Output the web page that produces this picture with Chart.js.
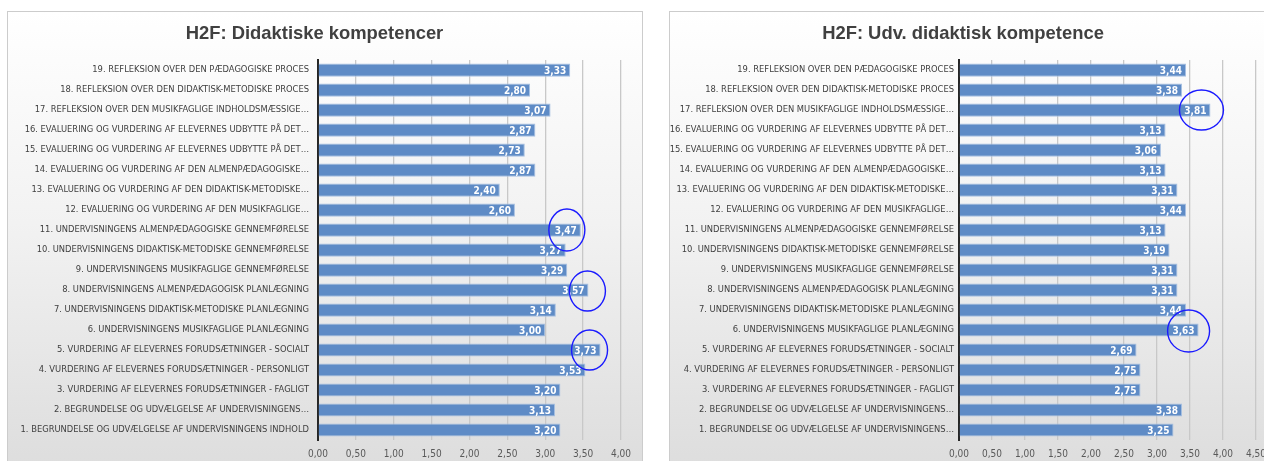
<!DOCTYPE html>
<html>
<head>
<meta charset="utf-8">
<script src="https://cdn.jsdelivr.net/npm/chart.js@4.4.1/dist/chart.umd.min.js"></script>
<style>
  html, body { margin: 0; padding: 0; background: #ffffff; width: 1264px; height: 461px; overflow: hidden; }
  .panel { position: absolute; top: 11px; height: 470px; box-sizing: border-box; border: 1px solid #cccccc;
           background: linear-gradient(to bottom, #ffffff 0%, #f2f2f2 45%, #dcdcdc 100%); }
  .panel canvas { position: absolute; left: 0; top: 0; }
</style>
</head>
<body>
<div class="panel" id="pl" style="left:7px;width:636px;"><canvas id="c1" width="635" height="457"></canvas></div>
<div class="panel" id="pr" style="left:669px;width:607px;"><canvas id="c2" width="606" height="457"></canvas></div>
<script>
// ---------------- DATA ----------------
const leftTitle = 'H2F: Didaktiske kompetencer';
const rightTitle = 'H2F: Udv. didaktisk kompetence';

// categories listed 1 .. 19 (1 is drawn at the bottom)
const leftCategories = [
  '1. BEGRUNDELSE OG UDVÆLGELSE AF UNDERVISNINGENS INDHOLD',
  '2. BEGRUNDELSE OG UDVÆLGELSE AF UNDERVISNINGENS…',
  '3. VURDERING AF ELEVERNES FORUDSÆTNINGER - FAGLIGT',
  '4. VURDERING AF ELEVERNES FORUDSÆTNINGER - PERSONLIGT',
  '5. VURDERING AF ELEVERNES FORUDSÆTNINGER - SOCIALT',
  '6. UNDERVISNINGENS MUSIKFAGLIGE PLANLÆGNING',
  '7. UNDERVISNINGENS DIDAKTISK-METODISKE PLANLÆGNING',
  '8. UNDERVISNINGENS ALMENPÆDAGOGISK PLANLÆGNING',
  '9. UNDERVISNINGENS MUSIKFAGLIGE GENNEMFØRELSE',
  '10. UNDERVISNINGENS DIDAKTISK-METODISKE GENNEMFØRELSE',
  '11. UNDERVISNINGENS ALMENPÆDAGOGISKE GENNEMFØRELSE',
  '12. EVALUERING OG VURDERING AF DEN MUSIKFAGLIGE…',
  '13. EVALUERING OG VURDERING AF DEN DIDAKTISK-METODISKE…',
  '14. EVALUERING OG VURDERING AF DEN ALMENPÆDAGOGISKE…',
  '15. EVALUERING OG VURDERING AF ELEVERNES UDBYTTE PÅ DET…',
  '16. EVALUERING OG VURDERING AF ELEVERNES UDBYTTE PÅ DET…',
  '17. REFLEKSION OVER DEN MUSIKFAGLIGE INDHOLDSMÆSSIGE…',
  '18. REFLEKSION OVER DEN DIDAKTISK-METODISKE PROCES',
  '19. REFLEKSION OVER DEN PÆDAGOGISKE PROCES'
];
const rightCategories = [
  '1. BEGRUNDELSE OG UDVÆLGELSE AF UNDERVISNINGENS…',
  '2. BEGRUNDELSE OG UDVÆLGELSE AF UNDERVISNINGENS…',
  '3. VURDERING AF ELEVERNES FORUDSÆTNINGER - FAGLIGT',
  '4. VURDERING AF ELEVERNES FORUDSÆTNINGER - PERSONLIGT',
  '5. VURDERING AF ELEVERNES FORUDSÆTNINGER - SOCIALT',
  '6. UNDERVISNINGENS MUSIKFAGLIGE PLANLÆGNING',
  '7. UNDERVISNINGENS DIDAKTISK-METODISKE PLANLÆGNING',
  '8. UNDERVISNINGENS ALMENPÆDAGOGISK PLANLÆGNING',
  '9. UNDERVISNINGENS MUSIKFAGLIGE GENNEMFØRELSE',
  '10. UNDERVISNINGENS DIDAKTISK-METODISKE GENNEMFØRELSE',
  '11. UNDERVISNINGENS ALMENPÆDAGOGISKE GENNEMFØRELSE',
  '12. EVALUERING OG VURDERING AF DEN MUSIKFAGLIGE…',
  '13. EVALUERING OG VURDERING AF DEN DIDAKTISK-METODISKE…',
  '14. EVALUERING OG VURDERING AF DEN ALMENPÆDAGOGISKE…',
  '15. EVALUERING OG VURDERING AF ELEVERNES UDBYTTE PÅ DET…',
  '16. EVALUERING OG VURDERING AF ELEVERNES UDBYTTE PÅ DET…',
  '17. REFLEKSION OVER DEN MUSIKFAGLIGE INDHOLDSMÆSSIGE…',
  '18. REFLEKSION OVER DEN DIDAKTISK-METODISKE PROCES',
  '19. REFLEKSION OVER DEN PÆDAGOGISKE PROCES'
];
const leftValues  = [3.20, 3.13, 3.20, 3.53, 3.73, 3.00, 3.14, 3.57, 3.29, 3.27, 3.47, 2.60, 2.40, 2.87, 2.73, 2.87, 3.07, 2.80, 3.33];
const rightValues = [3.25, 3.38, 2.75, 2.75, 2.69, 3.63, 3.44, 3.31, 3.31, 3.19, 3.13, 3.44, 3.31, 3.13, 3.06, 3.13, 3.81, 3.38, 3.44];

const leftAxisMax = 4.0;
const rightAxisMax = 4.5;
const tickStep = 0.5;

// highlighted (circled) categories, by index into the arrays above
const leftCircled  = [10, 7, 4];
const rightCircled = [16, 5];

// ---------------- STYLE / DRAW ----------------
const LABEL_FONT = '"Liberation Sans Narrow", "DejaVu Sans Condensed", "Liberation Sans", sans-serif';
const fmt = v => v.toFixed(2).replace('.', ',');

const valueLabels = {
  id: 'valueLabels',
  afterDatasetsDraw(chart) {
    const ctx = chart.ctx;
    const meta = chart.getDatasetMeta(0);
    const data = chart.data.datasets[0].data;
    ctx.save();
    ctx.font = 'bold 10px ' + LABEL_FONT;
    ctx.fillStyle = '#ffffff';
    ctx.textAlign = 'right';
    ctx.textBaseline = 'middle';
    meta.data.forEach((bar, i) => {
      ctx.fillText(fmt(data[i]), bar.x - 4, bar.y + 1);
    });
    ctx.restore();
  }
};

const circles = {
  id: 'circles',
  afterDatasetsDraw(chart, args, opts) {
    const ctx = chart.ctx;
    const meta = chart.getDatasetMeta(0);
    ctx.save();
    ctx.strokeStyle = '#1a1aff';
    ctx.lineWidth = 1.4;
    (opts.items || []).forEach(it => {
      const bar = meta.data[it.index];
      ctx.beginPath();
      ctx.ellipse(bar.x + it.dx, bar.y + it.dy, it.rx, it.ry, 0, 0, Math.PI * 2);
      ctx.stroke();
    });
    ctx.restore();
  }
};

function makeChart(id, title, cats, vals, xmax, yWidth, padRight, labelPad, circleItems) {
  return new Chart(document.getElementById(id), {
    type: 'bar',
    data: {
      labels: cats,
      datasets: [{
        data: vals,
        backgroundColor: '#5e8bc6',
        borderColor: '#a7c0e2',
        borderWidth: 1,
        barPercentage: 0.66,
        categoryPercentage: 1.0
      }]
    },
    options: {
      indexAxis: 'y',
      responsive: false,
      animation: false,
      layout: { padding: { left: 0, right: padRight, top: 0, bottom: 1 } },
      plugins: {
        legend: { display: false },
        tooltip: { enabled: false },
        title: {
          display: true,
          text: title,
          color: '#404040',
          font: { family: '"Liberation Sans", Arial, sans-serif', size: 18.4, weight: 'bold' },
          padding: { top: 11, bottom: 15 }
        },
        circles: { items: circleItems }
      },
      scales: {
        x: {
          min: 0, max: xmax,
          ticks: {
            stepSize: tickStep,
            callback: v => fmt(v),
            color: '#595959',
            font: { family: LABEL_FONT, size: 10 },
            padding: 8
          },
          grid: { color: '#c8c8c8', lineWidth: 1.3, drawTicks: false },
          border: { display: false }
        },
        y: {
          reverse: true,
          ticks: {
            color: '#404040',
            font: { family: LABEL_FONT, size: 9.3 },
            padding: labelPad,
            autoSkip: false
          },
          grid: { display: false, drawTicks: false },
          border: { display: true, color: '#262626', width: 2 },
          afterFit(scale) { scale.width = yWidth; }
        }
      }
    },
    plugins: [valueLabels, circles]
  });
}

makeChart('c1', leftTitle, leftCategories, leftValues, leftAxisMax, 310, 22, 9, [
  { index: leftCircled[0], dx: -14, dy: 0, rx: 18, ry: 21 },
  { index: leftCircled[1], dx: -1,  dy: 1, rx: 18, ry: 20 },
  { index: leftCircled[2], dx: -11, dy: 0, rx: 18, ry: 20 }
]);
makeChart('c2', rightTitle, rightCategories, rightValues, rightAxisMax, 289, 20, 5, [
  { index: rightCircled[0], dx: -9,  dy: 0, rx: 22, ry: 20 },
  { index: rightCircled[1], dx: -10, dy: 1, rx: 21, ry: 21 }
]);
</script>
</body>
</html>
